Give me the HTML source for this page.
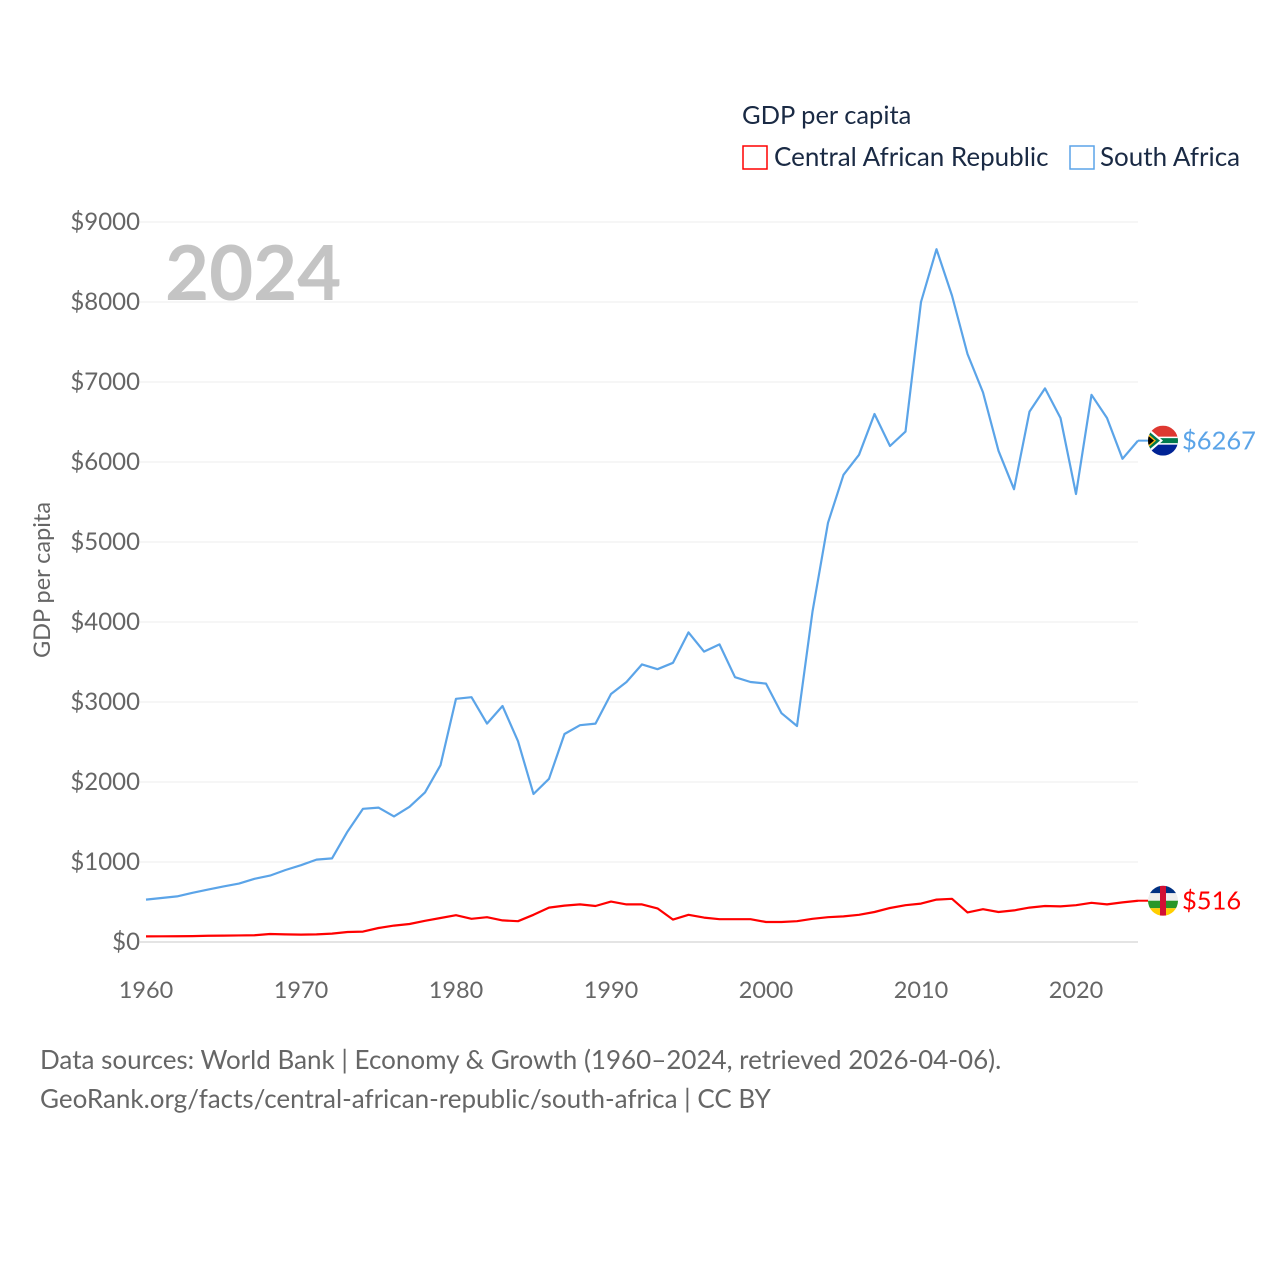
<!DOCTYPE html>
<html><head><meta charset="utf-8"><style>
body{margin:0;background:#fff;font-family:"Liberation Sans",sans-serif}
svg text{font-family:"Lato","Liberation Sans",sans-serif}
</style></head><body>
<svg id="chart" width="1280" height="1280" viewBox="0 0 1280 1280">
<rect width="1280" height="1280" fill="#fff"/>
<text x="742" y="124" font-size="25.5" fill="#1a2a44">GDP per capita</text>
<rect x="743" y="146" width="24" height="23" fill="none" stroke="#f00" stroke-width="1.5"/>
<text x="774" y="166" font-size="26" fill="#1a2a44">Central African Republic</text>
<rect x="1070" y="146" width="24" height="23" fill="none" stroke="#5ba4e8" stroke-width="1.5"/>
<text x="1100" y="166" font-size="26" fill="#1a2a44">South Africa</text>
<text x="165" y="300" font-size="76" font-weight="bold" fill="#c4c4c4">2024</text>
<text transform="translate(50,580) rotate(-90)" text-anchor="middle" font-size="23.5" fill="#666">GDP per capita</text>
<g id="grid"></g><g id="lines"></g><g id="ends"></g>
<text x="40" y="1069" font-size="26" fill="#666">Data sources: World Bank | Economy &amp; Growth (1960–2024, retrieved 2026-04-06).</text>
<text x="40" y="1108" font-size="26" fill="#666">GeoRank.org/facts/central-african-republic/south-africa | CC BY</text>
</svg>
<script>
const years = [];
for (let y = 1960; y <= 2024; y++) years.push(y);
const southAfrica = [530,550,570,615,655,695,730,790,830,900,960,1030,1045,1380,1665,1680,1570,1690,1870,2210,3040,3060,2730,2950,2510,1850,2040,2600,2710,2730,3100,3250,3470,3410,3490,3870,3630,3720,3310,3250,3230,2860,2700,4130,5240,5840,6090,6600,6200,6380,8000,8660,8080,7350,6870,6140,5660,6630,6920,6550,5600,6840,6550,6040,6267];
const car = [70,71,72,73,78,80,82,84,100,95,92,95,105,125,130,175,205,225,265,300,335,290,310,270,260,340,430,455,470,450,505,470,470,420,280,340,305,285,285,285,250,250,260,290,310,320,340,375,425,460,480,530,540,370,410,375,395,430,450,445,460,490,470,495,516];
const yTicks = [0,1000,2000,3000,4000,5000,6000,7000,8000,9000];
const xTicks = [1960,1970,1980,1990,2000,2010,2020];
const NS = "http://www.w3.org/2000/svg";
const X = y => 146 + (y - 1960) * (1138 - 146) / 64;
const Y = v => 942 - v * 0.08;
function mk(tag, attrs, parent){const e=document.createElementNS(NS,tag);for(const k in attrs)e.setAttribute(k,attrs[k]);parent.appendChild(e);return e;}
const grid=document.getElementById('grid');
yTicks.forEach(t=>{
  const l=mk('line',{x1:140,x2:1138,y1:Y(t),y2:Y(t),stroke:t===0?'#e4e4e4':'#ececec','stroke-width':t===0?2:1},grid);
  
  
  const tx=mk('text',{x:140,y:Y(t)+8,'text-anchor':'end','font-size':24,fill:'#666'},grid);
  tx.textContent='$'+t;
  
  
});
xTicks.forEach(t=>{
  const tx=mk('text',{x:X(t),y:998,'text-anchor':'middle','font-size':23.5,fill:'#666'},grid);
  tx.textContent=t;
  
  
});
const lines=document.getElementById('lines');
function line(vals,color,name){
  const p=mk('polyline',{points:vals.map((v,i)=>X(years[i])+','+Y(v)).join(' '),fill:'none',stroke:color,'stroke-width':2.2,'stroke-linejoin':'round'},lines);
  
  
}
line(southAfrica,'#5ba4e8','south-africa-line');
line(car,'#ff0000','car-line');
const ends=document.getElementById('ends');
const defs=mk('defs',{},ends);
function endLabel(vals,color,name,flag){
  const v=vals[vals.length-1], yy=Y(v), cx=1163;
  mk('line',{x1:1138,x2:1148,y1:yy,y2:yy,stroke:color,'stroke-width':2},ends);
  const cp=mk('clipPath',{id:'c'+name},defs);
  mk('circle',{cx:cx,cy:yy,r:15},cp);
  const g=mk('g',{'clip-path':'url(#c'+name+')'},ends);
  
  
  flag(g,cx,yy);
  const t=mk('text',{x:1182,y:yy+9,'font-size':25.5,fill:color},ends);
  t.textContent='$'+v;
  
  
}
endLabel(southAfrica,'#5ba4e8','south-africa',(g,cx,cy)=>{
  mk('rect',{x:cx-15,y:cy-15,width:30,height:15,fill:'#de3831'},g);
  mk('rect',{x:cx-15,y:cy,width:30,height:15,fill:'#002395'},g);
  mk('rect',{x:cx-15,y:cy-4,width:30,height:8,fill:'#fff'},g);
  mk('rect',{x:cx-15,y:cy-2.5,width:30,height:5,fill:'#007a4d'},g);
  mk('polygon',{points:`${cx-15},${cy-13} ${cx},${cy} ${cx-15},${cy+13}`,fill:'#fff'},g);
  mk('polygon',{points:`${cx-15},${cy-10} ${cx-3},${cy} ${cx-15},${cy+10}`,fill:'#007a4d'},g);
  mk('polygon',{points:`${cx-15},${cy-7} ${cx-7},${cy} ${cx-15},${cy+7}`,fill:'#ffb612'},g);
  mk('polygon',{points:`${cx-15},${cy-5} ${cx-9},${cy} ${cx-15},${cy+5}`,fill:'#000'},g);
});
endLabel(car,'#ff0000','car',(g,cx,cy)=>{
  const c=['#003082','#eee','#289728','#ffce00'];
  c.forEach((col,i)=>mk('rect',{x:cx-15,y:cy-15+i*7.5,width:30,height:7.5,fill:col},g));
  mk('rect',{x:cx-3,y:cy-15,width:6,height:30,fill:'#d21034'},g);
});
</script>
</body></html>
